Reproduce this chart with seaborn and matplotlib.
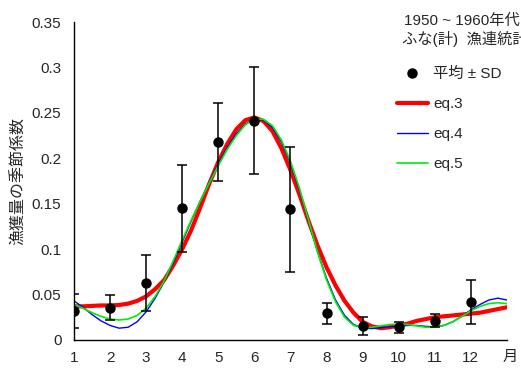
import numpy as np
import matplotlib
matplotlib.use("Agg")
import matplotlib.pyplot as plt
import seaborn as sns
from matplotlib.lines import Line2D

# Monthly means and SD
months = [1, 2, 3, 4, 5, 6, 7, 8, 9, 10, 11, 12]
mean_coef = [0.032, 0.0356, 0.063, 0.145, 0.218, 0.2415, 0.144, 0.0294, 0.0158, 0.014, 0.0213, 0.0415]
sd_coef = [0.019, 0.0135, 0.031, 0.048, 0.0425, 0.0585, 0.069, 0.0115, 0.0098, 0.006, 0.007, 0.0244]

# Fitted curves, sampled every quarter month from 1 to 13
curve_x = np.arange(1, 13.25, 0.25)
eq3 = [0.037, 0.037, 0.0375, 0.038, 0.038, 0.0385, 0.040, 0.043, 0.048, 0.056, 0.066, 0.082,
       0.100, 0.121, 0.146, 0.172, 0.196, 0.216, 0.232, 0.242, 0.245, 0.241, 0.230, 0.211,
       0.187, 0.160, 0.131, 0.104, 0.080, 0.060, 0.043, 0.030, 0.020, 0.015, 0.013, 0.014,
       0.016, 0.018, 0.021, 0.023, 0.025, 0.026, 0.027, 0.028, 0.029, 0.030, 0.032, 0.034, 0.036]
eq4 = [0.043, 0.036, 0.028, 0.021, 0.016, 0.013, 0.014, 0.020, 0.031, 0.046, 0.064, 0.085,
       0.108, 0.131, 0.153, 0.174, 0.194, 0.212, 0.227, 0.238, 0.243, 0.242, 0.234, 0.218,
       0.195, 0.165, 0.131, 0.097, 0.068, 0.044, 0.027, 0.017, 0.013, 0.0125, 0.0135, 0.0145,
       0.0155, 0.016, 0.016, 0.015, 0.0145, 0.016, 0.020, 0.026, 0.033, 0.039, 0.044, 0.046, 0.044]
eq5 = [0.039, 0.035, 0.030, 0.026, 0.023, 0.022, 0.023, 0.027, 0.035, 0.048, 0.065, 0.087,
       0.110, 0.132, 0.153, 0.173, 0.192, 0.210, 0.225, 0.237, 0.243, 0.243, 0.236, 0.220,
       0.197, 0.167, 0.132, 0.097, 0.066, 0.042, 0.025, 0.016, 0.0135, 0.014, 0.0155, 0.017,
       0.0175, 0.017, 0.0155, 0.014, 0.014, 0.016, 0.020, 0.026, 0.032, 0.037, 0.040, 0.041, 0.040]

y_ticks = [0, 0.05, 0.1, 0.15, 0.2, 0.25, 0.3, 0.35]
y_tick_labels = ["0", "0.05", "0.1", "0.15", "0.2", "0.25", "0.3", "0.35"]

sns.set_style("white")
plt.rcParams['font.family'] = ['Liberation Sans', 'Noto Sans CJK JP', 'DejaVu Sans']

fig = plt.figure(figsize=(5.21, 3.74), dpi=100)
ax = fig.add_axes([0.142, 0.091, 0.831, 0.850])

# curves
sns.lineplot(x=curve_x, y=eq3, ax=ax, color='#ff0000', lw=3.0, sort=False, estimator=None)
sns.lineplot(x=curve_x, y=eq4, ax=ax, color='#0000ff', lw=1.0, sort=False, estimator=None)
sns.lineplot(x=curve_x, y=eq5, ax=ax, color='#00ee00', lw=1.2, sort=False, estimator=None)

# mean +- SD
ax.errorbar(months, mean_coef, yerr=sd_coef, fmt='o', color='black', ms=6.5,
            elinewidth=1.1, capsize=3.5, capthick=1.1, zorder=5)

ax.set_xlim(1, 13)
ax.set_ylim(0, 0.35)
ax.set_xticks(months)
ax.set_xticklabels([str(m) for m in months])
ax.set_yticks(y_ticks)
ax.set_yticklabels(y_tick_labels)
ax.tick_params(axis='both', direction='inout', length=6, width=1.0, labelsize=11, color='black')
ax.tick_params(axis='x', pad=5)
ax.tick_params(axis='y', pad=6)
for s in ['top', 'right']:
    ax.spines[s].set_visible(False)
for s in ['left', 'bottom']:
    ax.spines[s].set_color('black')
    ax.spines[s].set_linewidth(1.0)

ax.set_ylabel('漁獲量の季節係数', fontsize=11.5, labelpad=4)
# unit label at the end of the x axis, level with the tick labels
ax.text(12.87, -0.019, '月', fontsize=11, ha='left', va='center', clip_on=False)

fig.text(0.998, 0.945, '1950 ~ 1960年代', fontsize=11, ha='right', va='center')
fig.text(1.012, 0.897, 'ふな(計)  漁連統計', fontsize=11, ha='right', va='center')

handles = [
    Line2D([], [], marker='o', color='black', ls='none', ms=6.5),
    Line2D([], [], color='#ff0000', lw=3.0),
    Line2D([], [], color='#0000ff', lw=1.0),
    Line2D([], [], color='#00ee00', lw=1.2),
]
labels = ['平均 ± SD', 'eq.3', 'eq.4', 'eq.5']
fig.legend(handles, labels, loc='upper left', bbox_to_anchor=(0.762, 0.821),
           frameon=False, fontsize=11, handlelength=2.0, handletextpad=0.35,
           labelspacing=1.05, borderpad=0, borderaxespad=0)

fig.savefig('out.png', dpi=100)
